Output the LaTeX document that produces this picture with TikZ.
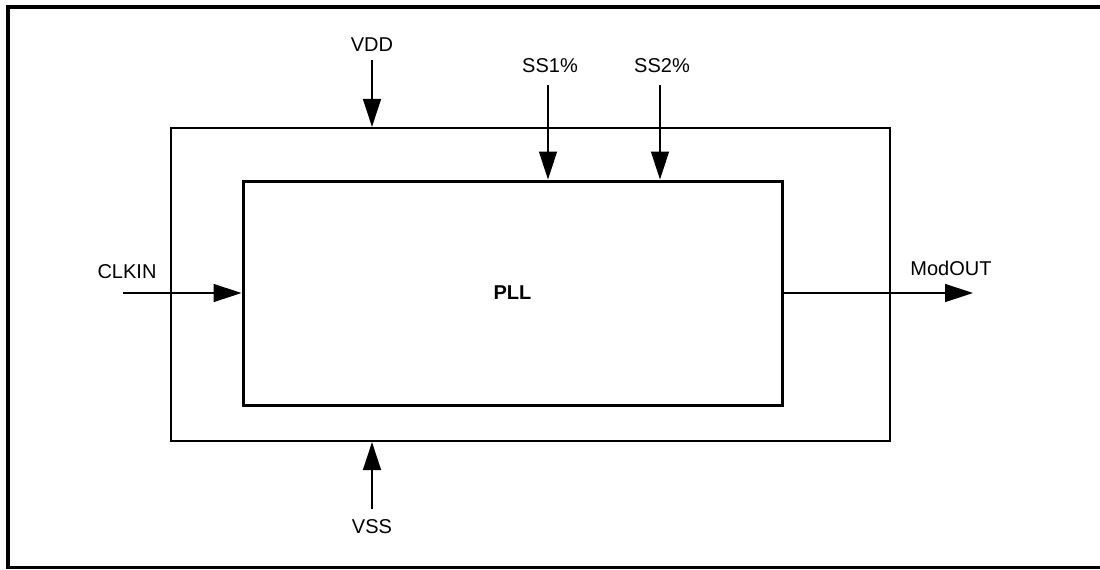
\documentclass[tikz,border=0pt]{standalone}
\usepackage{fontspec}
\setmainfont{Liberation Sans}
\usetikzlibrary{arrows.meta,positioning}

\tikzset{
  sig/.style={line width=0.75pt,-{Triangle[length=14pt,width=9pt]}},
  lbl/.style={font=\fontsize{10}{12}\selectfont,inner sep=0pt},
}

\begin{document}
\begin{tikzpicture}[x=0.5pt,y=-0.5pt]
\useasboundingbox (0,0) rectangle (1100,569);
% page frame
\draw[line width=1.75pt] (1100,7) -- (8,7) -- (8,567.5) -- (1100,567.5);
% blocks
\node[draw,line width=1.1pt,minimum width=359.5pt,minimum height=156.5pt,inner sep=0pt] (outer) at (530.5,284.5) {};
\node[draw,line width=1.5pt,minimum width=269.5pt,minimum height=112pt,inner sep=0pt,
      font=\fontsize{10}{12}\selectfont\bfseries] (pll) at (512.5,293) {PLL};
% labels
\node[lbl] (vdd) at (372,44.5) {VDD};
\node[lbl] (ssa) at (550,65.5) {SS1\%};
\node[lbl] (ssb) at (662,65.5) {SS2\%};
\node[lbl] (clk) at (127,272) {CLKIN};
\node[lbl] (mod) at (951,268) {ModOUT};
\node[lbl] (vss) at (372,527) {VSS};
% free ends
\coordinate (vddin) at (372,60);
\coordinate (ssain) at (548,85);
\coordinate (ssbin) at (660,85);
\coordinate (clkin) at (123,293);
\coordinate (modout) at (973,293);
\coordinate (vssin) at (372,509);
% signals
\draw[sig] (vddin) -- (vddin |- outer.north);
\draw[sig] (ssain) -- (ssain |- pll.north);
\draw[sig] (ssbin) -- (ssbin |- pll.north);
\draw[sig] (clkin) -- (clkin -| pll.west);
\draw[sig] (pll.east) -- (modout);
\draw[sig] (vssin) -- (vssin |- outer.south);
\end{tikzpicture}
\end{document}
